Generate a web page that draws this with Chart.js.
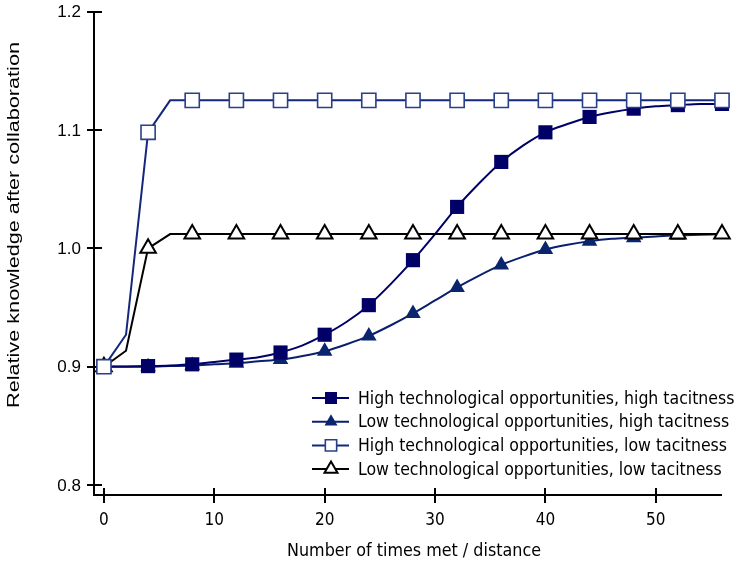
<!DOCTYPE html>
<html>
<head>
<meta charset="utf-8">
<script src="https://cdn.jsdelivr.net/npm/chart.js@4.4.1/dist/chart.umd.min.js"></script>
<style>
  html, body { margin: 0; background: #fff; }
  #wrap { width: 737px; height: 567px; position: relative; }
</style>
</head>
<body>
<div id="wrap"><canvas id="chart"></canvas></div>
<script>
// x positions of the simulation steps (markers shown every 4)
const xValues = [0, 2, 4, 6, 8, 10, 12, 14, 16, 18, 20, 22, 24, 26, 28, 30, 32, 34, 36, 38, 40, 42, 44, 46, 48, 50, 52, 54, 56];

const hiOppHiTacit = [0.900, 0.9002, 0.9005, 0.901, 0.902, 0.904, 0.906, 0.908, 0.912, 0.918, 0.927, 0.938, 0.952, 0.970, 0.990, 1.012, 1.035, 1.055, 1.073, 1.087, 1.098, 1.105, 1.111, 1.115, 1.118, 1.120, 1.121, 1.122, 1.122];
const loOppHiTacit = [0.900, 0.900, 0.900, 0.9005, 0.901, 0.902, 0.903, 0.9045, 0.906, 0.909, 0.913, 0.919, 0.926, 0.935, 0.945, 0.956, 0.967, 0.977, 0.986, 0.993, 0.999, 1.003, 1.006, 1.008, 1.009, 1.010, 1.011, 1.0115, 1.012];
const hiOppLoTacit = [0.900, 0.927, 1.098, 1.125, 1.125, 1.125, 1.125, 1.125, 1.125, 1.125, 1.125, 1.125, 1.125, 1.125, 1.125, 1.125, 1.125, 1.125, 1.125, 1.125, 1.125, 1.125, 1.125, 1.125, 1.125, 1.125, 1.125, 1.125, 1.125];
const loOppLoTacit = [0.900, 0.9135, 1.000, 1.012, 1.012, 1.012, 1.012, 1.012, 1.012, 1.012, 1.012, 1.012, 1.012, 1.012, 1.012, 1.012, 1.012, 1.012, 1.012, 1.012, 1.012, 1.012, 1.012, 1.012, 1.012, 1.012, 1.012, 1.012, 1.012];

const seriesNames = [
  'High technological opportunities, high tacitness',
  'Low technological opportunities, high tacitness',
  'High technological opportunities, low tacitness',
  'Low technological opportunities, low tacitness'
];

const xTicks = [0, 10, 20, 30, 40, 50];
const yTicks = [0.8, 0.9, 1.0, 1.1, 1.2];
const yTickLabels = ['0.8', '0.9', '1.0', '1.1', '1.2'];
const xTitle = 'Number of times met / distance';
const yTitle = 'Relative knowledge after collaboration';

const SANS = '"Liberation Sans", Arial, sans-serif';
const TAHOMA = '"DejaVu Sans Condensed", Tahoma, sans-serif';

const toPoints = arr => arr.map((v, i) => ({ x: xValues[i], y: v }));
const everyOther = r => ctx => (ctx.dataIndex % 2 === 0 ? r : 0);

function makeSet(label, values, o) {
  return {
    label,
    data: toPoints(values),
    borderColor: o.line,
    borderWidth: 2,
    pointStyle: o.style,
    pointRadius: everyOther(o.radius),
    pointBackgroundColor: o.fill,
    pointBorderColor: o.edge,
    pointBorderWidth: o.edgeWidth,
    cubicInterpolationMode: o.smooth ? 'monotone' : 'default',
    tension: 0,
    order: o.order,
    clip: false,
    legendRadius: o.legendRadius
  };
}

const datasets = [
  makeSet(seriesNames[0], hiOppHiTacit, { line: '#000066', style: 'rect', radius: 10, fill: '#000066', edge: '#000066', edgeWidth: 0, smooth: true, order: 2, legendRadius: 8.5 }),
  makeSet(seriesNames[1], loOppHiTacit, { line: '#0a1f6e', style: 'triangle', radius: 9, fill: '#0a256e', edge: '#0a256e', edgeWidth: 0, smooth: true, order: 2, legendRadius: 7.5 }),
  makeSet(seriesNames[2], hiOppLoTacit, { line: '#13287a', style: 'rect', radius: 10, fill: '#ffffff', edge: '#2a3f8a', edgeWidth: 1.6, smooth: false, order: 1, legendRadius: 8 }),
  makeSet(seriesNames[3], loOppLoTacit, { line: '#000000', style: 'triangle', radius: 9, fill: '#ffffff', edge: '#000000', edgeWidth: 2, smooth: false, order: 1, legendRadius: 7.5 })
];

// text squeezed/stretched along its own direction to a given length
function fitText(ctx, text, x, y, width) {
  const w = ctx.measureText(text).width;
  ctx.save();
  ctx.translate(x, y);
  ctx.scale(width / w, 1);
  ctx.fillText(text, 0, 0);
  ctx.restore();
}

const axesPlugin = {
  id: 'axesPlugin',
  beforeDatasetsDraw(chart) {
    const { ctx, chartArea: a, scales: { x, y } } = chart;
    ctx.save();
    ctx.strokeStyle = '#000';
    ctx.lineWidth = 2;
    ctx.beginPath();
    ctx.moveTo(a.left, a.top);
    ctx.lineTo(a.left, a.bottom);
    ctx.lineTo(a.right, a.bottom);
    yTicks.forEach(v => {
      const py = Math.round(y.getPixelForValue(v));
      ctx.moveTo(a.left - 7, py);
      ctx.lineTo(a.left + 8, py);
    });
    xTicks.forEach(v => {
      const px = Math.round(x.getPixelForValue(v));
      ctx.moveTo(px, a.bottom - 7);
      ctx.lineTo(px, a.bottom + 8);
    });
    ctx.stroke();

    ctx.fillStyle = '#000';
    ctx.font = '17px ' + SANS;
    ctx.textAlign = 'right';
    ctx.textBaseline = 'middle';
    yTicks.forEach((v, i) => ctx.fillText(yTickLabels[i], a.left - 13, y.getPixelForValue(v) + 1));

    ctx.font = '17px ' + TAHOMA;
    ctx.textAlign = 'center';
    xTicks.forEach(v => ctx.fillText(String(v), x.getPixelForValue(v), a.bottom + 26));
    fitText(ctx, xTitle, 414, a.bottom + 57, 254);

    ctx.translate(15, 225);
    ctx.rotate(-Math.PI / 2);
    ctx.font = '16px ' + SANS;
    fitText(ctx, yTitle, 0, 0, 366);
    ctx.restore();
  }
};

const legendPlugin = {
  id: 'legendPlugin',
  afterDatasetsDraw(chart) {
    const { ctx } = chart;
    ctx.save();
    chart.data.datasets.forEach((ds, i) => {
      const cy = 398 + i * 23.7;
      ctx.strokeStyle = ds.borderColor;
      ctx.lineWidth = 2;
      ctx.beginPath();
      ctx.moveTo(312, cy);
      ctx.lineTo(349, cy);
      ctx.stroke();
      ctx.fillStyle = ds.pointBackgroundColor;
      ctx.strokeStyle = ds.pointBorderColor;
      ctx.lineWidth = ds.pointBorderWidth;
      Chart.helpers.drawPoint(ctx, {
        pointStyle: ds.pointStyle,
        radius: ds.legendRadius,
        rotation: 0,
        borderWidth: ds.pointBorderWidth
      }, 331, cy);
      ctx.fillStyle = '#000';
      ctx.font = '17.5px ' + TAHOMA;
      ctx.textAlign = 'left';
      ctx.textBaseline = 'middle';
      ctx.fillText(ds.label, 358, cy + 1);
    });
    ctx.restore();
  }
};

new Chart(document.getElementById('chart'), {
  type: 'line',
  data: { datasets },
  options: {
    responsive: true,
    maintainAspectRatio: false,
    animation: false,
    layout: { padding: { left: 94, right: 15, top: 10, bottom: 72 } },
    scales: {
      x: { type: 'linear', min: -0.9, max: 56, display: false },
      y: { type: 'linear', min: 0.7916, max: 1.2, display: false }
    },
    plugins: { legend: { display: false }, tooltip: { enabled: false } }
  },
  plugins: [axesPlugin, legendPlugin]
});
</script>
</body>
</html>
